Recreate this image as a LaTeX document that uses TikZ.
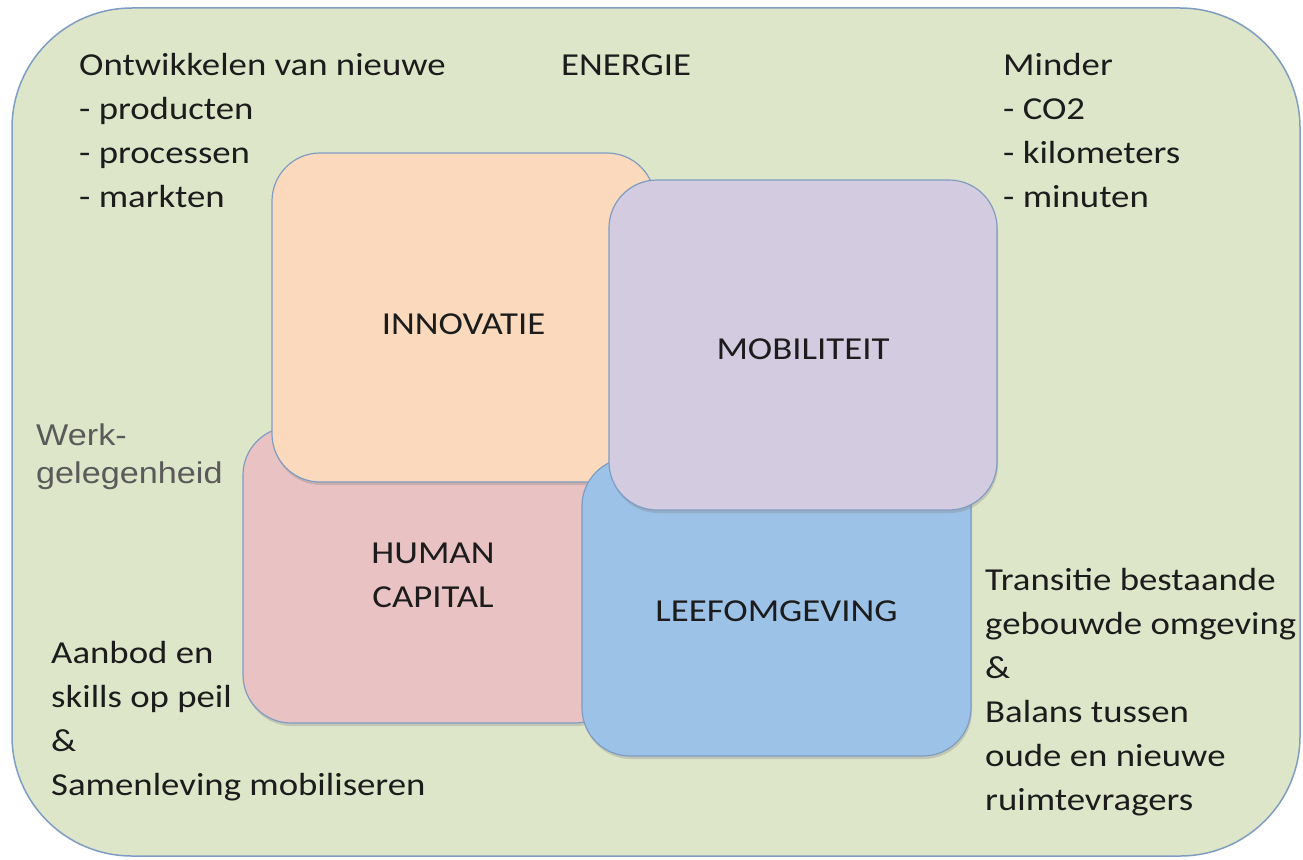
\documentclass[tikz,border=0pt]{standalone}
\usepackage{fontspec}
\setmainfont{Carlito}[FakeStretch=1.15]
\newfontfamily\werkfont{Liberation Sans}[FakeStretch=1.14]
\usepackage{tikz}
\usetikzlibrary{shadows}
\definecolor{fieldgreen}{HTML}{DEE6C9}
\definecolor{edgeblue}{HTML}{7F9DC2}
\definecolor{innovpeach}{HTML}{FBD9BD}
\definecolor{mobilviolet}{HTML}{D3CBE0}
\definecolor{humanrose}{HTML}{E9C2C3}
\definecolor{leefblue}{HTML}{9DC2E8}
\definecolor{ink}{HTML}{1C1C1C}
\definecolor{werkgray}{HTML}{5A5A5A}
\tikzset{
  field/.style={draw=edgeblue,fill=fieldgreen,line width=1.5pt,rounded corners=120pt},
  theme/.style={draw=edgeblue,line width=1.2pt,rounded corners=48pt,inner sep=0pt,
    align=center,text=ink,font=\fontsize{32}{44}\selectfont,
    drop shadow={shadow xshift=1pt,shadow yshift=-3pt,opacity=0.3}},
  note/.style={anchor=base west,align=left,inner sep=0pt,text=ink,
    font=\fontsize{32}{44}\selectfont}
}

\begin{document}
\begin{tikzpicture}[x=1pt,y=-1pt]
  \useasboundingbox (0,0) rectangle (1303,859);
  \draw[field] (12,8) rectangle (1300,856);

  \node[theme,fill=humanrose,minimum width=380pt,minimum height=296pt]
    (human) at (433,575) {HUMAN\\CAPITAL};
  \node[theme,fill=innovpeach,minimum width=383pt,minimum height=329pt,
    text height=34pt,text depth=0pt] (innov) at (463.5,317.5) {INNOVATIE};
  \node[theme,fill=leefblue,minimum width=389pt,minimum height=298pt,
    text height=28pt,text depth=0pt] (leef) at (776.5,607) {LEEFOMGEVING};
  \node[theme,fill=mobilviolet,minimum width=388pt,minimum height=330pt,
    text height=29pt,text depth=0pt] (mobil) at (803,345) {MOBILITEIT};

  % base west of a multi-line note sits on its last line
  \node[note] (energie) at (561,75) {ENERGIE};
  \node[note] (ontw) at (79,207)
    {Ontwikkelen van nieuwe\\- producten\\- processen\\- markten};
  \node[note] (minder) at (1003,207)
    {Minder\\- CO2\\- kilometers\\- minuten};
  \node[note,text=werkgray,font=\werkfont\fontsize{30}{38}\selectfont]
    (werk) at (36,483) {Werk-\\gelegenheid};
  \node[note] (aanbod) at (51,795)
    {Aanbod en\\skills op peil\\\&\\Samenleving mobiliseren};
  \node[note] (transitie) at (985,810)
    {Transitie bestaande\\gebouwde omgeving\\\&\\Balans tussen\\oude en nieuwe\\ruimtevragers};
\end{tikzpicture}
\end{document}
